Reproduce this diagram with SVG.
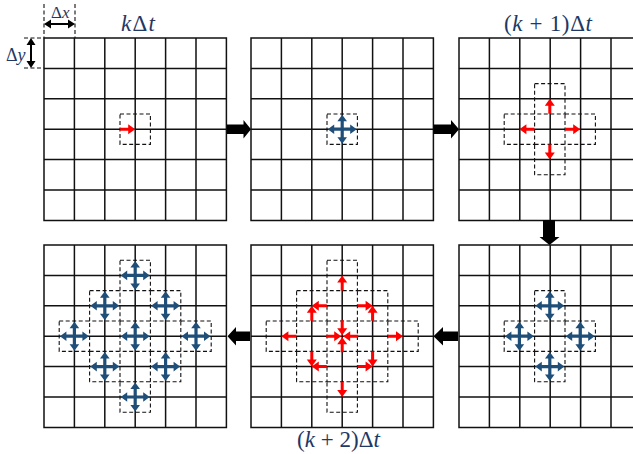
<svg xmlns="http://www.w3.org/2000/svg" xmlns:xlink="http://www.w3.org/1999/xlink" width="633" height="454" viewBox="0 0 633 454">
<style>
.gl{stroke:#111;stroke-width:1.5;fill:none}
.db{stroke:#111;stroke-width:1.1;stroke-dasharray:4,2.5;fill:none}
.lbl{font-family:"Liberation Serif",serif;font-size:23px;font-weight:normal;fill:#1f3864}
.it{font-style:italic}
.big{fill:#000}
</style>
<defs>
<g id="grid">
<path class="gl" d="M0,0H182.4V182.4H0Z M30.4,0V182.4 M60.8,0V182.4 M91.2,0V182.4 M121.6,0V182.4 M152,0V182.4 M0,30.4H182.4 M0,60.8H182.4 M0,91.2H182.4 M0,121.6H182.4 M0,152H182.4"/>
</g>
<rect id="box" class="db" x="-15.2" y="-15.2" width="30.4" height="30.4"/>
<path id="ra" d="M-15,-1.5H-7V-5L0,0L-7,5V1.5H-15Z" fill="#ff0000"/>
<g id="bx" fill="#1f4e79">
<path id="ba" d="M0,-1.6H8V-4.8L14.5,0L8,4.8V1.6H0Z"/>
<use href="#ba" transform="rotate(90)"/>
<use href="#ba" transform="rotate(180)"/>
<use href="#ba" transform="rotate(270)"/>
</g>
</defs>

<g id="scale-marks">
<path class="db" d="M44,4V38 M75,4V38 M24,38H44 M24,68H44"/>
<path d="M49,24H70 M31,43V63" stroke="#000" stroke-width="2"/>
<path d="M44,24L51,19.5V28.5Z M75,24L68,19.5V28.5Z M31,38L26.5,45H35.5Z M31,68L26.5,61H35.5Z" fill="#000"/>
<text class="lbl" x="51" y="18" style="font-size:17px"><tspan>Δ</tspan><tspan class="it">x</tspan></text>
<text class="lbl" x="6" y="61" style="font-size:18px"><tspan>Δ</tspan><tspan class="it">y</tspan></text>
</g>

<g id="panel1">
<use href="#grid" x="44" y="38"/>
<g transform="translate(135.2,129.2)">
<use href="#box"/>
<use href="#ra"/>
</g>
<text class="lbl" x="121" y="31" textLength="34" lengthAdjust="spacing"><tspan class="it">k</tspan>Δ<tspan class="it">t</tspan></text>
</g>

<g id="panel2">
<use href="#grid" x="251" y="38"/>
<g transform="translate(342.2,129.2)">
<use href="#box"/>
<use href="#bx"/>
</g>
</g>

<g id="panel3">
<use href="#grid" x="459" y="38"/>
<g transform="translate(549.8,129.2)">
<use href="#box" x="0" y="-30.4"/>
<use href="#box" x="-30.4" y="0"/>
<use href="#box" x="30.4" y="0"/>
<use href="#box" x="0" y="30.4"/>
<use href="#ra" transform="translate(0,-30.4) rotate(-90)"/>
<use href="#ra" transform="translate(-30.4,0) rotate(180)"/>
<use href="#ra" transform="translate(30.4,0)"/>
<use href="#ra" transform="translate(0,30.4) rotate(90)"/>
</g>
<text class="lbl" x="504" y="31" textLength="88" lengthAdjust="spacing">(<tspan class="it">k</tspan> + 1)Δ<tspan class="it">t</tspan></text>
</g>

<g id="panel6">
<use href="#grid" x="459" y="245"/>
<g transform="translate(549.8,336.2)">
<use href="#box" x="0" y="-30.4"/>
<use href="#box" x="-30.4" y="0"/>
<use href="#box" x="30.4" y="0"/>
<use href="#box" x="0" y="30.4"/>
<use href="#bx" x="0" y="-30.4"/>
<use href="#bx" x="-30.4" y="0"/>
<use href="#bx" x="30.4" y="0"/>
<use href="#bx" x="0" y="30.4"/>
</g>
</g>

<g id="panel5">
<use href="#grid" x="251" y="245"/>
<g transform="translate(342.2,336.2)">
<use href="#box" x="0" y="-60.8"/>
<use href="#box" x="-30.4" y="-30.4"/>
<use href="#box" x="30.4" y="-30.4"/>
<use href="#box" x="-60.8" y="0"/>
<use href="#box" x="0" y="0"/>
<use href="#box" x="60.8" y="0"/>
<use href="#box" x="-30.4" y="30.4"/>
<use href="#box" x="30.4" y="30.4"/>
<use href="#box" x="0" y="60.8"/>
<use href="#ra" transform="translate(0,-60.8) rotate(-90)"/>
<use href="#ra" transform="translate(-60.8,0) rotate(180)"/>
<use href="#ra" transform="translate(60.8,0)"/>
<use href="#ra" transform="translate(0,60.8) rotate(90)"/>
<use href="#ra" transform="translate(0,-1) rotate(90)"/>
<use href="#ra" transform="translate(-1,0)"/>
<use href="#ra" transform="translate(1,0) rotate(180)"/>
<use href="#ra" transform="translate(0,1) rotate(-90)"/>
<use href="#ra" transform="translate(-30.4,-30.4) rotate(180)"/>
<use href="#ra" transform="translate(-30.4,-30.4) rotate(-90)"/>
<use href="#ra" transform="translate(30.4,-30.4)"/>
<use href="#ra" transform="translate(30.4,-30.4) rotate(-90)"/>
<use href="#ra" transform="translate(-30.4,30.4) rotate(90)"/>
<use href="#ra" transform="translate(-30.4,30.4) rotate(180)"/>
<use href="#ra" transform="translate(30.4,30.4) rotate(90)"/>
<use href="#ra" transform="translate(30.4,30.4)"/>
</g>
<text class="lbl" x="297" y="447" textLength="83" lengthAdjust="spacing">(<tspan class="it">k</tspan> + 2)Δ<tspan class="it">t</tspan></text>
</g>

<g id="panel4">
<use href="#grid" x="44" y="245"/>
<g transform="translate(135.2,336.2)">
<use href="#box" x="0" y="-60.8"/>
<use href="#box" x="-30.4" y="-30.4"/>
<use href="#box" x="30.4" y="-30.4"/>
<use href="#box" x="-60.8" y="0"/>
<use href="#box" x="0" y="0"/>
<use href="#box" x="60.8" y="0"/>
<use href="#box" x="-30.4" y="30.4"/>
<use href="#box" x="30.4" y="30.4"/>
<use href="#box" x="0" y="60.8"/>
<use href="#bx" x="0" y="-60.8"/>
<use href="#bx" x="-30.4" y="-30.4"/>
<use href="#bx" x="30.4" y="-30.4"/>
<use href="#bx" x="-60.8" y="0"/>
<use href="#bx" x="0" y="0"/>
<use href="#bx" x="60.8" y="0"/>
<use href="#bx" x="-30.4" y="30.4"/>
<use href="#bx" x="30.4" y="30.4"/>
<use href="#bx" x="0" y="60.8"/>
</g>
</g>

<g id="connectors" class="big">
<path d="M227,124.5H243.5V120L251,129.2L243.5,138.4V133.9H227Z"/>
<path d="M433.5,124.5H451V120L459,129.2L451,138.4V133.9H433.5Z"/>
<path d="M543,220H555V237H559.5L549.5,245L539.5,237H543Z"/>
<path d="M458,331.5H443V327L433.5,336.2L443,345.4V340.9H458Z"/>
<path d="M250,331.5H236V327L227.5,336.2L236,345.4V340.9H250Z"/>
</g>
</svg>
